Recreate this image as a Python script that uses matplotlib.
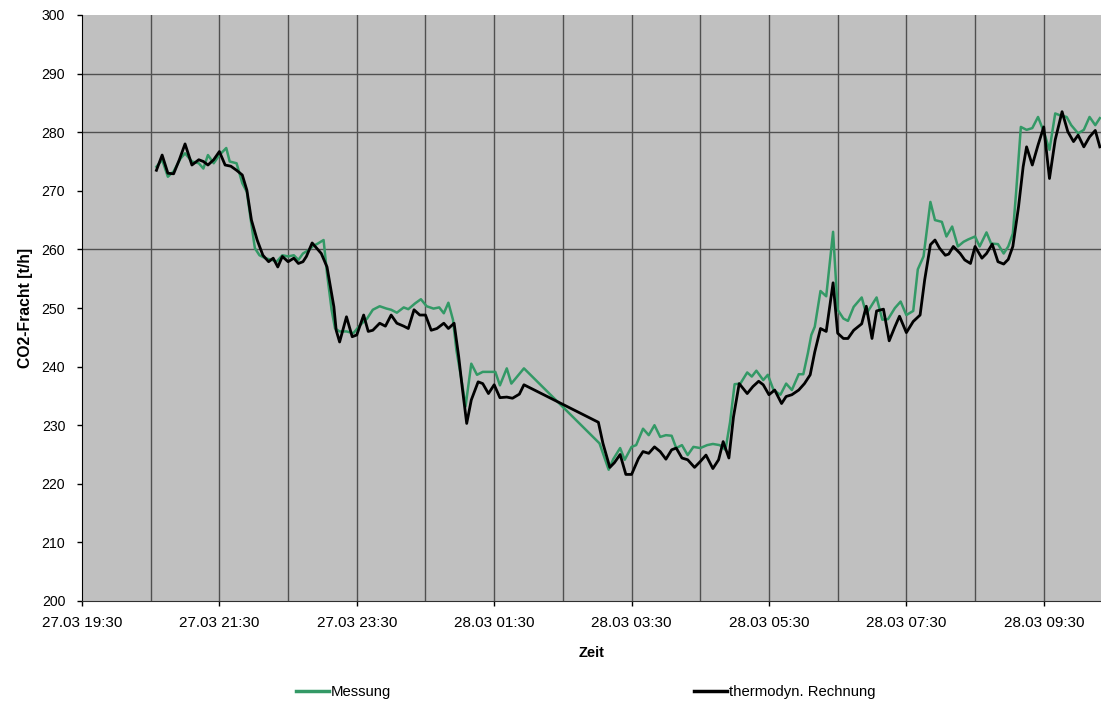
import matplotlib
matplotlib.use("Agg")
import matplotlib.pyplot as plt
import matplotlib.dates as mdates
from matplotlib.lines import Line2D
import pandas as pd
from datetime import datetime

plt.rcParams["font.family"] = ["Liberation Sans", "DejaVu Sans"]

# Measured CO2 load (t/h)
mess_times = [
    "20:35", "20:40", "20:45", "20:50", "20:56", "21:00", "21:06", "21:12", "21:16", "21:20",
    "21:25", "21:30", "21:36", "21:39", "21:45", "21:50", "21:54", "21:57", "22:01", "22:05",
    "22:10", "22:16", "22:20", "22:25", "22:30", "22:35", "22:39", "22:43", "22:48", "22:52",
    "22:56", "23:01", "23:04", "23:08", "23:11", "23:15", "23:21", "23:27", "23:33", "23:39",
    "23:44", "23:50", "23:56", "00:00", "00:05", "00:11", "00:15", "00:21", "00:26", "00:31",
    "00:37", "00:42", "00:46", "00:50", "00:54", "00:57", "01:02", "01:05", "01:10", "01:15",
    "01:20", "01:26", "01:31", "01:35", "01:41", "01:45", "01:56", "03:02", "03:10", "03:14",
    "03:20", "03:24", "03:30", "03:34", "03:40", "03:45", "03:50", "03:55", "04:00", "04:05",
    "04:09", "04:14", "04:19", "04:24", "04:30", "04:36", "04:41", "04:47", "04:52", "04:56",
    "05:00", "05:05", "05:11", "05:15", "05:19", "05:25", "05:29", "05:34", "05:40", "05:45",
    "05:50", "05:56", "06:00", "06:04", "06:07", "06:10", "06:15", "06:20", "06:26", "06:30",
    "06:35", "06:39", "06:44", "06:51", "06:55", "07:04", "07:09", "07:14", "07:20", "07:25",
    "07:30", "07:36", "07:40", "07:45", "07:51", "07:55", "08:01", "08:05", "08:10", "08:15",
    "08:20", "08:24", "08:30", "08:34", "08:40", "08:44", "08:50", "08:55", "08:59", "09:03",
    "09:06", "09:10", "09:15", "09:20", "09:25", "09:30", "09:35", "09:40", "09:44", "09:50",
    "09:54", "10:00", "10:05", "10:10", "10:15", "10:19",
]
mess_values = [
    274.1, 275.3, 272.4, 273.3, 275.5, 276.4, 275.0, 274.7, 273.8, 276.1,
    274.7, 276.1, 277.3, 275.0, 274.7, 271.3, 269.8, 265.6, 260.2, 259.0,
    258.5, 258.2, 257.9, 259.0, 258.8, 259.0, 258.2, 259.3, 259.9, 260.6,
    261.0, 261.6, 255.9, 249.7, 246.5, 246.0, 246.0, 245.7, 247.1, 248.2,
    249.7, 250.3, 249.9, 249.7, 249.2, 250.1, 249.8, 250.8, 251.5, 250.3,
    249.9, 250.1, 249.1, 250.9, 248.0, 242.8, 237.1, 233.2, 240.5, 238.6,
    239.1, 239.1, 239.1, 236.8, 239.7, 237.1, 239.7, 226.9, 222.4, 224.2,
    226.1, 224.1, 226.3, 226.6, 229.4, 228.3, 230.0, 228.0, 228.3, 228.2,
    226.1, 226.6, 224.9, 226.3, 226.1, 226.6, 226.8, 226.6, 225.8, 230.5,
    237.0, 237.1, 239.0, 238.3, 239.3, 237.7, 238.6, 236.0, 235.2, 237.1,
    236.0, 238.7, 238.7, 242.3, 245.4, 246.8, 252.9, 252.0, 263.0, 249.7,
    248.2, 247.8, 250.2, 251.8, 249.0, 251.8, 248.0, 248.1, 250.0, 251.1,
    248.8, 249.5, 256.6, 258.8, 268.1, 265.0, 264.7, 262.2, 263.9, 260.5,
    261.3, 261.7, 262.2, 260.5, 262.9, 261.0, 260.9, 259.3, 260.5, 262.7,
    270.1, 280.9, 280.4, 280.7, 282.6, 280.1, 277.0, 283.2, 282.9, 282.6,
    281.2, 279.8, 280.4, 282.6, 281.2, 282.4,
]

# Thermodynamic calculation of the CO2 load (t/h)
rech_times = [
    "20:35", "20:40", "20:45", "20:50", "20:55", "21:00", "21:06", "21:12", "21:16", "21:20",
    "21:25", "21:30", "21:35", "21:40", "21:45", "21:50", "21:54", "21:58", "22:03", "22:08",
    "22:13", "22:17", "22:21", "22:25", "22:30", "22:35", "22:39", "22:43", "22:46", "22:51",
    "22:55", "22:59", "23:04", "23:10", "23:12", "23:15", "23:21", "23:26", "23:30", "23:36",
    "23:40", "23:44", "23:50", "23:55", "00:00", "00:05", "00:11", "00:15", "00:20", "00:25",
    "00:30", "00:35", "00:40", "00:46", "00:50", "00:55", "00:59", "01:02", "01:06", "01:10",
    "01:16", "01:20", "01:25", "01:30", "01:35", "01:41", "01:46", "01:52", "01:56", "03:01",
    "03:05", "03:11", "03:15", "03:20", "03:25", "03:30", "03:36", "03:40", "03:45", "03:50",
    "03:55", "04:00", "04:05", "04:09", "04:14", "04:19", "04:25", "04:30", "04:35", "04:41",
    "04:46", "04:50", "04:55", "04:59", "05:04", "05:11", "05:16", "05:21", "05:25", "05:30",
    "05:35", "05:41", "05:45", "05:50", "05:56", "06:01", "06:06", "06:10", "06:15", "06:20",
    "06:26", "06:30", "06:35", "06:39", "06:44", "06:51", "06:55", "07:00", "07:04", "07:10",
    "07:15", "07:20", "07:24", "07:30", "07:36", "07:42", "07:46", "07:51", "07:55", "07:59",
    "08:04", "08:07", "08:11", "08:17", "08:21", "08:26", "08:30", "08:36", "08:40", "08:45",
    "08:50", "08:55", "08:59", "09:03", "09:08", "09:12", "09:15", "09:20", "09:25", "09:30",
    "09:35", "09:40", "09:46", "09:51", "09:56", "10:00", "10:05", "10:10", "10:15", "10:19",
]
rech_values = [
    273.5, 276.1, 273.0, 272.9, 275.3, 278.0, 274.4, 275.3, 275.0, 274.4,
    275.3, 276.7, 274.4, 274.2, 273.5, 272.7, 270.1, 265.0, 261.6, 259.0,
    257.9, 258.5, 257.0, 258.8, 257.9, 258.5, 257.6, 257.9, 258.8, 261.1,
    260.2, 259.3, 257.0, 250.2, 246.2, 244.2, 248.5, 245.1, 245.4, 248.8,
    246.0, 246.2, 247.4, 246.9, 248.8, 247.4, 246.9, 246.5, 249.7, 248.8,
    248.8, 246.2, 246.5, 247.4, 246.5, 247.4, 241.7, 236.6, 230.3, 234.3,
    237.4, 237.1, 235.4, 236.9, 234.7, 234.8, 234.6, 235.3, 236.9, 230.5,
    226.9, 222.8, 223.6, 225.0, 221.6, 221.6, 224.3, 225.5, 225.2, 226.3,
    225.5, 224.2, 225.8, 226.1, 224.4, 224.1, 222.8, 223.8, 224.9, 222.6,
    224.1, 227.2, 224.4, 231.4, 237.1, 235.4, 236.6, 237.5, 236.9, 235.2,
    236.0, 233.7, 234.9, 235.2, 236.0, 237.1, 238.6, 242.5, 246.5, 246.0,
    254.3, 245.7, 244.8, 244.8, 246.2, 247.3, 250.3, 244.8, 249.5, 249.8,
    244.4, 246.8, 248.6, 245.8, 247.7, 248.8, 254.8, 260.8, 261.6, 260.2,
    259.0, 259.2, 260.5, 259.3, 258.2, 257.6, 260.5, 258.5, 259.3, 260.9,
    257.9, 257.5, 258.3, 260.5, 267.3, 274.1, 277.5, 274.4, 277.8, 280.9,
    272.1, 278.7, 283.5, 280.1, 278.4, 279.5, 277.5, 279.2, 280.3, 277.5,
]

series_labels = ["Messung", "thermodyn. Rechnung"]
series_colors = ["#339966", "#000000"]
y_ticks = [200, 210, 220, 230, 240, 250, 260, 270, 280, 290, 300]
y_grid = [260, 280, 290]


def clock_to_datetime(hhmm):
    """Evening times belong to 27.03, morning times to 28.03."""
    h, m = (int(p) for p in hhmm.split(":"))
    day = 27 if h >= 12 else 28
    return datetime(2000, 3, day, h, m)


mess_x = [clock_to_datetime(t) for t in mess_times]
rech_x = [clock_to_datetime(t) for t in rech_times]

start = datetime(2000, 3, 27, 19, 30)
end = datetime(2000, 3, 28, 10, 20)

W, H = 1101, 704
fig = plt.figure(figsize=(W / 100, H / 100), dpi=100)
ax = fig.add_axes([82 / W, 1 - 601 / H, (1101 - 82) / W, (601 - 15) / H])
ax.set_facecolor("#C0C0C0")

# hourly vertical grid and a few horizontal reference lines
for t in pd.date_range(start, end, freq="1h")[1:]:
    ax.axvline(t, color="#505050", lw=1.0, zorder=1)
for v in y_grid:
    ax.axhline(v, color="#505050", lw=1.0, zorder=1)

ax.plot(mess_x, mess_values, color=series_colors[0], lw=1.8, zorder=3)
ax.plot(rech_x, rech_values, color=series_colors[1], lw=2.0, zorder=4)

ax.set_xlim(start, end)
ax.set_ylim(200, 300)
ax.set_yticks(y_ticks)
ax.set_xticks(list(pd.date_range(start, end, freq="2h")))
ax.xaxis.set_major_formatter(mdates.DateFormatter("%d.%m %H:%M"))

ax.tick_params(axis="both", direction="out", length=3.6, width=1, color="black")
ax.tick_params(axis="x", labelsize=11, pad=7.5)
ax.tick_params(axis="y", labelsize=10.2, pad=8.5)
for s in ("top", "right"):
    ax.spines[s].set_visible(False)
ax.spines["left"].set_color("black")
ax.spines["bottom"].set_color("#303030")

ax.set_ylabel("CO2-Fracht [t/h]", fontsize=11.3, fontweight="bold", labelpad=6)
ax.set_xlabel("Zeit", fontsize=10.5, fontweight="bold", labelpad=11)

handles = [Line2D([], [], color=c, lw=2.5) for c in series_colors]
fig.legend(handles, series_labels, loc="center left",
           bbox_to_anchor=(296 / W, 1 - 692 / H), ncol=2, frameon=False,
           fontsize=10.7, handlelength=2.2, handletextpad=0.15,
           columnspacing=20.4, borderpad=0, borderaxespad=0)

fig.savefig("out.png", dpi=100)
